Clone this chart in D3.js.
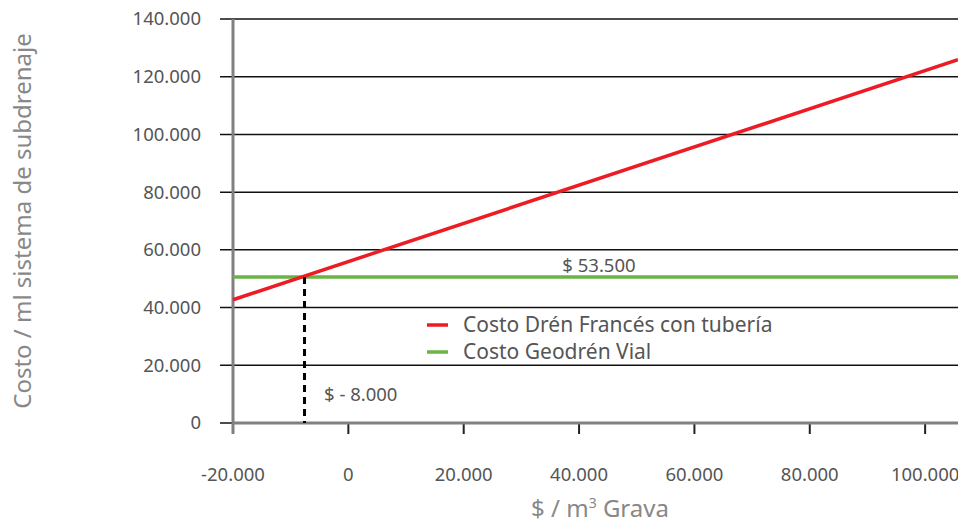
<!DOCTYPE html>
<html>
<head>
<meta charset="utf-8">
<script src="https://cdn.jsdelivr.net/npm/d3@7"></script>
<style>
  body { margin: 0; background: #fff; }
  svg { font-family: "Noto Sans", sans-serif; }
</style>
</head>
<body>
<div id="chart"></div>
<script>
// data
const xTicks = [-20000, 0, 20000, 40000, 60000, 80000, 100000]
const yTicks = [0, 20000, 40000, 60000, 80000, 100000, 120000, 140000]
const frances = [[-20000, 42700], [105700, 125900]]
const geodren = [[-20000, 50600], [105700, 50600]]
const cruce = [-7600, 50600]
const labels = ["$ 53.500", "$ - 8.000"]
const series = ["Costo Drén Francés con tubería", "Costo Geodrén Vial"]

const width = 958, height = 523
const svg = d3.select("#chart").append("svg")
    .attr("width", width).attr("height", height)

const x = d3.scaleLinear().domain([-20000, 105700]).range([233, 958])
const y = d3.scaleLinear().domain([0, 140000]).range([423, 19])

const loc = d3.formatLocale({decimal: ",", thousands: ".", grouping: [3], currency: ["$", ""], minus: "-"})
const fmt = loc.format(",")

// gridlines + y ticks
svg.append("g").selectAll("line").data(yTicks).join("line")
    .attr("x1", 220).attr("x2", width)
    .attr("y1", d => y(d)).attr("y2", d => y(d))
    .attr("stroke", "#111").attr("stroke-width", 1.5)

svg.append("g").selectAll("text").data(yTicks).join("text")
    .attr("x", 201).attr("y", d => y(d)).attr("dy", "0.35em")
    .attr("text-anchor", "end")
    .attr("font-size", 18.5).attr("fill", "#555")
    .text(d => fmt(d))

// x ticks
svg.append("g").selectAll("line").data(xTicks).join("line")
    .attr("x1", d => x(d)).attr("x2", d => x(d))
    .attr("y1", 423).attr("y2", 434)
    .attr("stroke", "#222").attr("stroke-width", 2)

svg.append("g").selectAll("text").data(xTicks).join("text")
    .attr("x", d => x(d)).attr("y", 481)
    .attr("text-anchor", "middle")
    .attr("font-size", 18.5).attr("fill", "#555")
    .text(d => fmt(d))

// axis lines
svg.append("line").attr("x1", x(-20000)).attr("x2", x(-20000))
    .attr("y1", y(140000)).attr("y2", 434)
    .attr("stroke", "#808080").attr("stroke-width", 3)
svg.append("line").attr("x1", x(-20000)).attr("x2", width)
    .attr("y1", y(0)).attr("y2", y(0))
    .attr("stroke", "#808080").attr("stroke-width", 3)

const line = d3.line().x(d => x(d[0])).y(d => y(d[1]))

svg.append("path").datum(geodren).attr("d", line)
    .attr("fill", "none").attr("stroke", "#6ab344").attr("stroke-width", 3.5)
svg.append("path").datum(frances).attr("d", line)
    .attr("fill", "none").attr("stroke", "#ed1c24").attr("stroke-width", 3.5)

// dashed drop line at the crossing
svg.append("line")
    .attr("x1", x(cruce[0])).attr("x2", x(cruce[0]))
    .attr("y1", y(cruce[1])).attr("y2", y(0))
    .attr("stroke", "#000").attr("stroke-width", 3)
    .attr("stroke-dasharray", "7,5")

svg.append("text").attr("x", 599).attr("y", 272)
    .attr("text-anchor", "middle").attr("font-size", 18.5).attr("fill", "#555")
    .text(labels[0])
svg.append("text").attr("x", 324).attr("y", 401)
    .attr("font-size", 18.5).attr("fill", "#555")
    .text(labels[1])

// legend
const colors = ["#ed1c24", "#6ab344"]
const lg = svg.append("g").selectAll("g").data(series).join("g")
    .attr("transform", (d, i) => `translate(427, ${325 + i * 27})`)
lg.append("line").attr("x1", 0).attr("x2", 21)
    .attr("stroke", (d, i) => colors[i]).attr("stroke-width", 3.5)
lg.append("text").attr("x", 36).attr("dy", "0.35em")
    .attr("font-size", 21).attr("fill", "#555")
    .text(d => d)

// axis titles
svg.append("text").attr("x", 600).attr("y", 517)
    .attr("text-anchor", "middle").attr("font-size", 24).attr("fill", "#888")
    .html("$ / m<tspan font-size='14' dy='-9'>3</tspan><tspan dy='9'> Grava</tspan>")
svg.append("text")
    .attr("transform", "translate(31, 221) rotate(-90)")
    .attr("text-anchor", "middle").attr("font-size", 24).attr("fill", "#888")
    .text("Costo / ml sistema de subdrenaje")
</script>
</body>
</html>
